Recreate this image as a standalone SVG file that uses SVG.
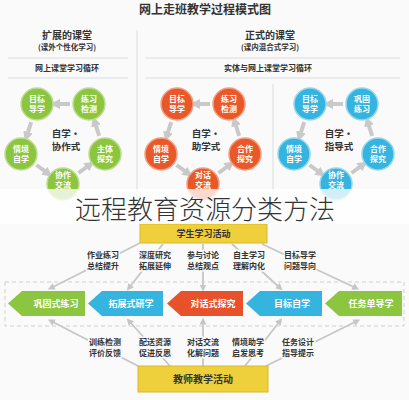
<svg xmlns="http://www.w3.org/2000/svg" width="409" height="400" viewBox="0 0 409 400">
<defs>
<style>
.f{font-family:"Noto Sans CJK SC","Noto Sans CJK JP",sans-serif;}
.h{font-weight:bold;fill:#333;text-anchor:middle;}
.ct{font-family:"Noto Sans CJK SC",sans-serif;font-size:8px;font-weight:bold;fill:#fff;text-anchor:middle;}
.cen{font-family:"Noto Sans CJK SC",sans-serif;font-size:9.5px;font-weight:bold;fill:#333;text-anchor:middle;}
.lbl{font-family:"Noto Sans CJK SC",sans-serif;font-size:8px;font-weight:bold;fill:#333;text-anchor:middle;stroke:#fafafa;stroke-width:3;paint-order:stroke;stroke-linejoin:round;}
.pt{font-family:"Noto Sans CJK SC",sans-serif;font-size:9px;font-weight:bold;fill:#fff;text-anchor:middle;}
.cyc{stroke:#c9c9c9;stroke-width:4;fill:none;marker-end:url(#ah);}
.ln{stroke:#c6c6c6;stroke-width:1.8;fill:none;marker-end:url(#ah2);}
.g circle{fill:#8cc540;stroke:#bedc94;stroke-width:1.5;}
.o circle{fill:#e8582a;stroke:#f2a083;stroke-width:1.5;}
.b circle{fill:#35b4e0;stroke:#97d6ee;stroke-width:1.5;}
.ybox{fill:#eecf3c;stroke:#dcb82a;stroke-width:1;}
</style>
<marker id="ah" viewBox="0 0 10 10" refX="4" refY="5" markerWidth="10" markerHeight="10" markerUnits="userSpaceOnUse" orient="auto"><path d="M0,0 L10,5 L0,10 z" fill="#c9c9c9"/></marker>
<marker id="ah2" viewBox="0 0 10 10" refX="5" refY="5" markerWidth="7" markerHeight="7" markerUnits="userSpaceOnUse" orient="auto"><path d="M0,0 L10,5 L0,10 z" fill="#c6c6c6"/></marker>
</defs>
<rect width="409" height="400" fill="#fafafa"/>

<g id="header">
<text class="f h" x="205" y="14" font-size="12">网上走班教学过程模式图</text>
<text class="f h" x="67" y="39" font-size="10">扩展的课堂</text>
<text class="f h" x="67" y="50" font-size="7.5">(课外个性化学习)</text>
<text class="f h" x="270" y="39" font-size="10">正式的课堂</text>
<text class="f h" x="270" y="50" font-size="7.5">(课内混合式学习)</text>
<text class="f h" x="67" y="71" font-size="8">网上课堂学习循环</text>
<text class="f h" x="268" y="71" font-size="8">实体与网上课堂学习循环</text>
<g stroke="#dcdcdc" stroke-width="1">
<line x1="8" y1="58" x2="128" y2="58"/><line x1="8" y1="78" x2="128" y2="78"/>
<line x1="145" y1="58" x2="400" y2="58"/><line x1="145" y1="78" x2="400" y2="78"/>
<line x1="137" y1="30" x2="137" y2="196"/><line x1="273" y1="84" x2="273" y2="196"/>
</g>
</g>

<g id="connectors">
<g transform="translate(63,140)">
<path class="cyc" d="M7,-36 L-7,-36"/><path class="cyc" d="M-31.8,-17.9 L-36.2,-4.1"/><path class="cyc" d="M-26.5,25 L-15.5,33"/><path class="cyc" d="M15.5,33 L26.5,25"/><path class="cyc" d="M36.2,-4.1 L31.8,-17.9"/>
</g>
<g transform="translate(203,140)">
<path class="cyc" d="M7,-36 L-7,-36"/><path class="cyc" d="M-31.8,-17.9 L-36.2,-4.1"/><path class="cyc" d="M-26.5,25 L-15.5,33"/><path class="cyc" d="M15.5,33 L26.5,25"/><path class="cyc" d="M36.2,-4.1 L31.8,-17.9"/>
</g>
<g transform="translate(336,140)">
<path class="cyc" d="M7,-36 L-7,-36"/><path class="cyc" d="M-31.8,-17.9 L-36.2,-4.1"/><path class="cyc" d="M-26.5,25 L-15.5,33"/><path class="cyc" d="M15.5,33 L26.5,25"/><path class="cyc" d="M36.2,-4.1 L31.8,-17.9"/>
</g>
<path class="ln" d="M140,243 L51,288"/>
<path class="ln" d="M163,244 L129,288"/>
<path class="ln" d="M203,244 L203,288"/>
<path class="ln" d="M232,244 L280,288"/>
<path class="ln" d="M262,244 L356,288"/>
<path class="ln" d="M138,366 L51,321"/>
<path class="ln" d="M170,366 L129,321"/>
<path class="ln" d="M203,366 L203,321"/>
<path class="ln" d="M245,366 L280,321"/>
<path class="ln" d="M266,366 L357,321"/>
</g>

<g id="cycle-green" class="g">
<text class="cen" x="66" y="137">自学·</text><text class="cen" x="66" y="150">协作式</text>
<g id="g-tl"><circle cx="37" cy="104" r="16"/><text class="ct" x="37" y="102">目标</text><text class="ct" x="37" y="112">导学</text></g>
<g id="g-tr"><circle cx="89" cy="104" r="16"/><text class="ct" x="89" y="102">练习</text><text class="ct" x="89" y="112">检测</text></g>
<g id="g-bl"><circle cx="21" cy="154" r="16"/><text class="ct" x="21" y="152">情境</text><text class="ct" x="21" y="162">自学</text></g>
<g id="g-br"><circle cx="105" cy="154" r="16"/><text class="ct" x="105" y="152">主体</text><text class="ct" x="105" y="162">探究</text></g>
<g id="g-b"><circle cx="63" cy="184" r="16"/><text class="ct" x="63" y="178">协作</text><text class="ct" x="63" y="188">交流</text></g>
</g>

<g id="cycle-orange" class="o">
<text class="cen" x="206" y="137">自学·</text><text class="cen" x="206" y="150">助学式</text>
<g id="o-tl"><circle cx="177" cy="104" r="16"/><text class="ct" x="177" y="102">目标</text><text class="ct" x="177" y="112">导学</text></g>
<g id="o-tr"><circle cx="229" cy="104" r="16"/><text class="ct" x="229" y="102">练习</text><text class="ct" x="229" y="112">检测</text></g>
<g id="o-bl"><circle cx="161" cy="154" r="16"/><text class="ct" x="161" y="152">情境</text><text class="ct" x="161" y="162">自学</text></g>
<g id="o-br"><circle cx="245" cy="154" r="16"/><text class="ct" x="245" y="152">合作</text><text class="ct" x="245" y="162">探究</text></g>
<g id="o-b"><circle cx="203" cy="184" r="16"/><text class="ct" x="203" y="178">对话</text><text class="ct" x="203" y="188">交流</text></g>
</g>

<g id="cycle-blue" class="b">
<text class="cen" x="339" y="137">自学·</text><text class="cen" x="339" y="150">指导式</text>
<g id="b-tl"><circle cx="310" cy="104" r="16"/><text class="ct" x="310" y="102">目标</text><text class="ct" x="310" y="112">导学</text></g>
<g id="b-tr"><circle cx="362" cy="104" r="16"/><text class="ct" x="362" y="102">巩固</text><text class="ct" x="362" y="112">练习</text></g>
<g id="b-bl"><circle cx="294" cy="154" r="16"/><text class="ct" x="294" y="152">情境</text><text class="ct" x="294" y="162">自学</text></g>
<g id="b-br"><circle cx="378" cy="154" r="16"/><text class="ct" x="378" y="152">合作</text><text class="ct" x="378" y="162">探究</text></g>
<g id="b-b"><circle cx="336" cy="184" r="16"/><text class="ct" x="336" y="178">协作</text><text class="ct" x="336" y="188">交流</text></g>
</g>

<g id="student-box"><rect class="ybox" x="140" y="224" width="127" height="19"/><text class="pt" x="203.5" y="237" style="fill:#333">学生学习活动</text></g>

<g id="top-labels">
<text class="lbl" x="103" y="258">作业练习</text><text class="lbl" x="103" y="269">总结提升</text>
<text class="lbl" x="155" y="258">深度研究</text><text class="lbl" x="155" y="269">拓展延伸</text>
<text class="lbl" x="203" y="258">参与讨论</text><text class="lbl" x="203" y="269">总结观点</text>
<text class="lbl" x="249" y="258">自主学习</text><text class="lbl" x="249" y="269">理解内化</text>
<text class="lbl" x="300" y="258">目标导学</text><text class="lbl" x="300" y="269">问题导向</text>
</g>

<rect x="5" y="282" width="399" height="44" fill="none" stroke="#cfcfcf" stroke-width="1" stroke-dasharray="4,3"/>

<g id="step-1"><path d="M8,303.5 L22,291 L85,291 L85,316 L22,316 Z" fill="#8cc540"/><text class="pt" x="56" y="307">巩固式练习</text></g>
<g id="step-2"><path d="M88,303.5 L102,291 L163,291 L163,316 L102,316 Z" fill="#35b4e0"/><text class="pt" x="131" y="307">拓展式研学</text></g>
<g id="step-3"><path d="M167,303.5 L181,291 L243,291 L243,316 L181,316 Z" fill="#e8522a"/><text class="pt" x="213" y="307">对话式探究</text></g>
<g id="step-4"><path d="M246,303.5 L260,291 L322,291 L322,316 L260,316 Z" fill="#35b4e0"/><text class="pt" x="292" y="307">目标自学</text></g>
<g id="step-5"><path d="M325,303.5 L339,291 L402,291 L402,316 L339,316 Z" fill="#8cc540"/><text class="pt" x="371" y="307">任务单导学</text></g>

<g id="bottom-labels">
<text class="lbl" x="105" y="345">训练检测</text><text class="lbl" x="105" y="356">评价反馈</text>
<text class="lbl" x="155" y="345">配送资源</text><text class="lbl" x="155" y="356">促进反思</text>
<text class="lbl" x="203" y="345">对话交流</text><text class="lbl" x="203" y="356">化解问题</text>
<text class="lbl" x="248" y="345">情境助学</text><text class="lbl" x="248" y="356">启发思考</text>
<text class="lbl" x="298" y="345">任务设计</text><text class="lbl" x="298" y="356">指导提示</text>
</g>

<g id="teacher-box"><rect class="ybox" x="138" y="366" width="130" height="26"/><text class="pt" x="203" y="383" style="fill:#333;font-size:10px">教师教学活动</text></g>

<rect x="0" y="189" width="409" height="35" fill="#ffffff" opacity="0.78"/>
<text class="f" x="205" y="219" font-size="26" font-weight="300" fill="#333" text-anchor="middle">远程教育资源分类方法</text>
</svg>
